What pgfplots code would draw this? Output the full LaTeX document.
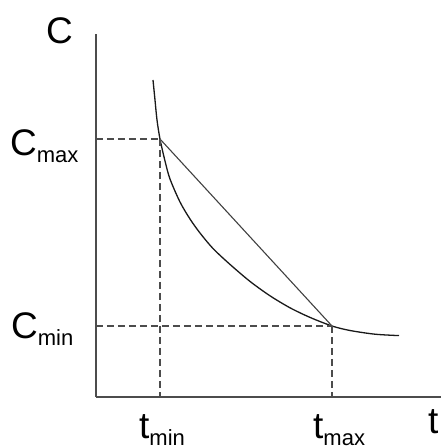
\documentclass[border=0pt]{standalone}
\usepackage{pgfplots}
\pgfplotsset{compat=1.18}
\usepackage{fontspec}
\setmainfont{Liberation Sans}
\newcommand{\mainlab}[1]{{\fontsize{37}{37}\selectfont #1}}
\newcommand{\sublab}[1]{\raisebox{-7pt}{\fontsize{22}{22}\selectfont #1}}
\begin{document}
\begin{tikzpicture}
\begin{axis}[
  scale only axis, width=345pt, height=363pt,
  xmin=96, xmax=441, ymin=50, ymax=413,
  axis x line=bottom, axis y line=left,
  axis line style={-, line width=1.6pt, black!70},
  xtick=\empty, ytick=\empty,
  clip=false,
]
% curve
\addplot[black!90, line width=1.3pt, smooth, tension=0.5] coordinates {
(153,367) (155,347) (157,327) (160,308) (165,286) (170,268) (180,245)
(190,228) (200,214) (213,198.5) (230,182.6) (250,165.6) (270,151.2)
(290,139.2) (310,129.6) (332,121) (350,116.5) (375,112.8) (399,111.4)
};
% chord
\addplot[black!75, line width=1.1pt] coordinates {(160,308) (332,121)};
% dashed guides
\addplot[black!70, line width=1.4pt, dash pattern=on 7pt off 4pt] coordinates {(96,308) (160,308)};
\addplot[black!70, line width=1.4pt, dash pattern=on 7pt off 4pt] coordinates {(160,308) (160,50)};
\addplot[black!70, line width=1.4pt, dash pattern=on 7pt off 4pt] coordinates {(96,121) (332,121)};
\addplot[black!70, line width=1.4pt, dash pattern=on 7pt off 4pt] coordinates {(332,121) (332,50)};
% labels
\node[anchor=base west, inner sep=0pt] at (axis cs:46,403) {\mainlab{C}};
\node[anchor=base west, inner sep=0pt] at (axis cs:10,291) {\mainlab{C}\sublab{max}};
\node[anchor=base west, inner sep=0pt] at (axis cs:11,108) {\mainlab{C}\sublab{min}};
\node[anchor=base west, inner sep=0pt] at (axis cs:139,9) {\mainlab{t}\sublab{min}};
\node[anchor=base west, inner sep=0pt] at (axis cs:313,9) {\mainlab{t}\sublab{max}};
\node[anchor=base west, inner sep=0pt] at (axis cs:428,14) {\mainlab{t}};
\coordinate (bl) at (axis cs:0,0);
\coordinate (tr) at (axis cs:441,447);
\end{axis}
\pgfresetboundingbox
\path[use as bounding box] (bl) rectangle (tr);
\end{tikzpicture}
\end{document}
